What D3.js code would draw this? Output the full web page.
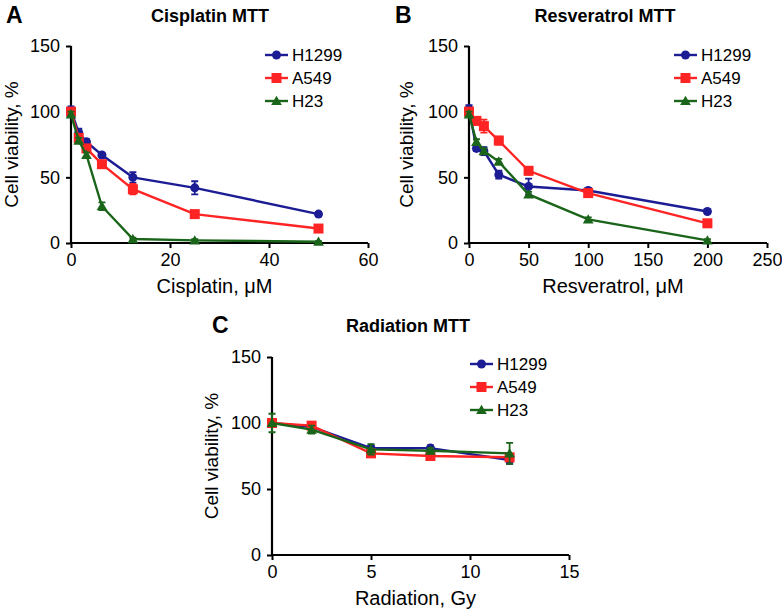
<!DOCTYPE html>
<html><head><meta charset="utf-8">
<script src="https://cdn.jsdelivr.net/npm/d3@7"></script>
<style>body{margin:0;background:#fff}svg{display:block;font-family:"Liberation Sans",Arial,sans-serif}</style>
</head><body>
<svg id="c" width="782" height="612"></svg>
<script>
const seriesNames = ["H1299","A549","H23"];
const seriesColors = ["#1c1c94","#ff2424","#1a651a"];
const yTicks = [0,50,100,150];

const cisX = [0,1.56,3.125,6.25,12.5,25,50];
const cisH1299 = [101,84,77,67,50,42,22];
const cisA549  = [100,80,72,60,41,22,11];
const cisH23   = [98,78,67,28,3,2,1];
const cisErrH1299 = [3,3,2,1.5,4,5,1.5];
const cisErrA549  = [2,3,2,2,4,2,1.5];
const cisErrH23   = [2,2,2,3,1,1,0.5];
const cisXTicks = [0,20,40,60];

const resX = [0,6.25,12.5,25,50,100,200];
const resH1299 = [102,72,70,52,43,40,24];
const resA549  = [100,93,89,78,55,38,15];
const resH23   = [98,77,70,62,37,18,2];
const resErrH1299 = [3,2,3,3,6,2,1.5];
const resErrA549  = [2,3,5,3,3,2,1.5];
const resErrH23   = [2,2,2,2,2,1.5,1];
const resXTicks = [0,50,100,150,200,250];

const radX = [0,2,5,8,12];
const radH1299 = [100,97,81,81,72];
const radA549  = [100,98,77,75,74];
const radH23   = [100,95,80,79,77];
const radErrH1299 = [2,2,2,2,3];
const radErrA549  = [2,2,2,2,2];
const radErrH23   = [7,3,4,2,8];
const radXTicks = [0,5,10,15];

const svg = d3.select("#c");

function panel(o){
  const g = svg.append("g");
  const x = d3.scaleLinear().domain([0,o.xmax]).range([o.x0,o.x1]);
  const y = d3.scaleLinear().domain([0,150]).range([o.y0,o.y1]);
  const ya = g.append("g").attr("transform",`translate(${o.x0},0)`)
    .call(d3.axisLeft(y).tickValues(yTicks).tickSize(5).tickPadding(6).tickFormat(d3.format("d")));
  const xa = g.append("g").attr("transform",`translate(0,${o.y0})`)
    .call(d3.axisBottom(x).tickValues(o.xticks).tickSize(5).tickPadding(5).tickFormat(d3.format("d")));
  [ya,xa].forEach(a=>{
    a.select(".domain").attr("stroke","#000").attr("stroke-width",2.2);
    a.selectAll(".tick line").attr("stroke","#000").attr("stroke-width",2);
    a.selectAll(".tick text").attr("fill","#000").style("font-size","18px").style("font-family","Liberation Sans, Arial, sans-serif");
  });
  xa.select(".domain").attr("d",`M${o.x0},0H${o.x1}`);
  ya.select(".domain").attr("d",`M0,${o.y0}V${o.y1}`);
  g.append("text").attr("x",o.titleX).attr("y",o.titleY).attr("text-anchor","middle")
    .style("font-weight","bold").style("font-size","18px").text(o.title);
  g.append("text").attr("x",o.letterX).attr("y",o.titleY+1)
    .style("font-weight","bold").style("font-size","23px").text(o.letter);
  g.append("text").attr("x",(o.x0+o.x1)/2-5).attr("y",o.y0+50).attr("text-anchor","middle")
    .style("font-size","20px").text(o.xlabel);
  g.append("text").attr("transform",`translate(${o.yLabelX},${(o.y0+o.y1)/2}) rotate(-90)`)
    .attr("text-anchor","middle").style("font-size","19px").text("Cell viability, %");
  const line = d3.line().x(d=>x(d[0])).y(d=>y(d[1]));
  o.series.forEach((s,i)=>{
    const col = seriesColors[i];
    const pts = o.xs.map((xv,j)=>[xv,s[j],o.errs[i][j]]);
    const sg = g.append("g");
    sg.append("path").datum(pts).attr("d",line).attr("fill","none").attr("stroke",col).attr("stroke-width",2.4);
    pts.forEach(p=>{
      const px=x(p[0]), t=y(p[1]+p[2]), b=y(p[1]-p[2]);
      sg.append("path").attr("d",`M${px},${t}V${b}M${px-3.5},${t}H${px+3.5}M${px-3.5},${b}H${px+3.5}`)
        .attr("stroke",col).attr("stroke-width",1.8).attr("fill","none");
      marker(sg,i,px,y(p[1]),col);
    });
    const ly = o.legY + i*23;
    g.append("line").attr("x1",o.legX).attr("x2",o.legX+23).attr("y1",ly).attr("y2",ly).attr("stroke",col).attr("stroke-width",2.4);
    marker(g,i,o.legX+11.5,ly,col);
    g.append("text").attr("x",o.legX+27).attr("y",ly+6).style("font-size","17px").text(seriesNames[i]);
  });
}
function marker(g,i,cx,cy,col){
  if(i===0) g.append("circle").attr("cx",cx).attr("cy",cy).attr("r",4.5).attr("fill",col);
  else if(i===1) g.append("rect").attr("x",cx-5).attr("y",cy-5).attr("width",10).attr("height",10).attr("fill",col);
  else g.append("path").attr("d",d3.symbol(d3.symbolTriangle,50)()).attr("transform",`translate(${cx},${cy+1})`).attr("fill",col);
}

panel({x0:71,x1:368,y0:243,y1:46,xmax:60,xticks:cisXTicks,xs:cisX,
  series:[cisH1299,cisA549,cisH23],errs:[cisErrH1299,cisErrA549,cisErrH23],
  title:"Cisplatin MTT",titleX:210,titleY:22,letter:"A",letterX:6,
  xlabel:"Cisplatin, μM",yLabelX:18,legX:265,legY:55});
panel({x0:469,x1:767,y0:243,y1:46,xmax:250,xticks:resXTicks,xs:resX,
  series:[resH1299,resA549,resH23],errs:[resErrH1299,resErrA549,resErrH23],
  title:"Resveratrol MTT",titleX:605,titleY:22,letter:"B",letterX:395,
  xlabel:"Resveratrol, μM",yLabelX:413,legX:674,legY:55});
panel({x0:272,x1:569,y0:555,y1:357,xmax:15,xticks:radXTicks,xs:radX,
  series:[radH1299,radA549,radH23],errs:[radErrH1299,radErrA549,radErrH23],
  title:"Radiation MTT",titleX:408,titleY:332,letter:"C",letterX:212,
  xlabel:"Radiation, Gy",yLabelX:218,legX:470,legY:364});
</script>
</body></html>
